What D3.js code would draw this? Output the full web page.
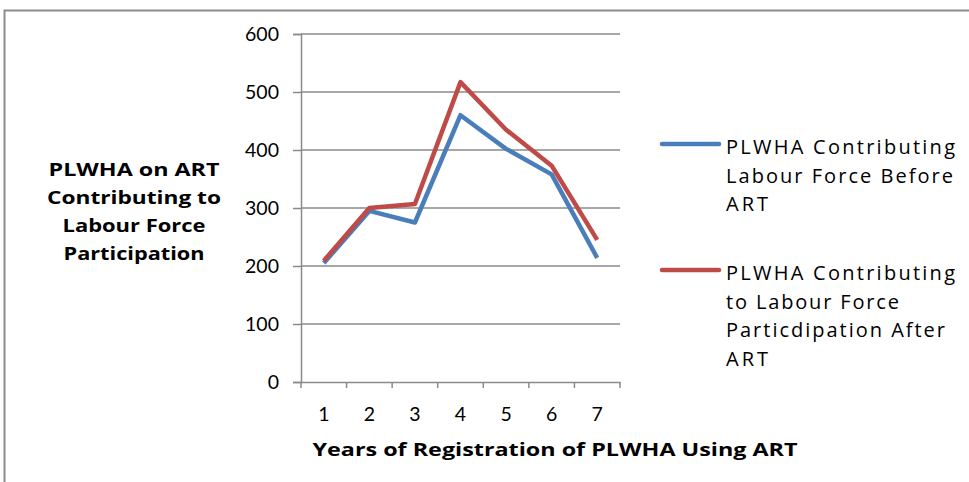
<!DOCTYPE html>
<html>
<head>
<meta charset="utf-8">
<script src="https://cdn.jsdelivr.net/npm/d3@7"></script>
<style>
  body { margin: 0; background: #fff; }
  svg { display: block; font-family: "Open Sans", Lato, sans-serif; }
</style>
</head>
<body>
<svg id="chart" width="969" height="482"></svg>
<script>
// data
var years = ['1', '2', '3', '4', '5', '6', '7'];
var beforeArt = [205, 295, 275, 460, 402, 358, 214];
var afterArt = [209, 300, 307, 517, 435, 373, 245];
var yTicks = [0, 100, 200, 300, 400, 500, 600];
var seriesNames = [
    ['PLWHA Contributing', 'Labour Force Before', 'ART'],
    ['PLWHA Contributing', 'to Labour Force', 'Particdipation After', 'ART']
];
var colors = ['#4a7ebb', '#be4b48'];

var svg = d3.select('#chart');

// outer frame (cut off at top/left like the source)
svg.append('path')
    .attr('d', 'M4.5,482 V10.5 H969')
    .attr('fill', 'none')
    .attr('stroke', '#8c8c8c')
    .attr('stroke-width', 2);

var plotLeft = 301, plotRight = 620, plotTop = 34, plotBottom = 382;

var x = d3.scaleBand().domain(years).range([plotLeft, plotRight]);
var y = d3.scaleLinear().domain([0, 600]).range([plotBottom, plotTop]);

// gridlines
svg.append('g').selectAll('line')
    .data(yTicks.slice(1))
    .enter().append('line')
    .attr('x1', plotLeft).attr('x2', plotRight)
    .attr('y1', function (d) { return y(d); })
    .attr('y2', function (d) { return y(d); })
    .attr('stroke', '#8a8a8a')
    .attr('stroke-width', 1.5);

var yAxis = svg.append('g')
    .attr('transform', 'translate(' + plotLeft + ',0)')
    .call(d3.axisLeft(y).tickValues(yTicks).tickSize(8).tickPadding(14));
yAxis.selectAll('text').attr('font-size', 19.5).attr('fill', '#000').attr('font-family', 'Lato, sans-serif');

var xAxis = svg.append('g')
    .attr('transform', 'translate(0,' + plotBottom + ')')
    .call(d3.axisBottom(x).tickSize(0).tickPadding(25));
xAxis.selectAll('text').attr('font-size', 19.5).attr('fill', '#000').attr('font-family', 'Lato, sans-serif');
// category boundary ticks
xAxis.selectAll('.bound')
    .data(years.concat(['end']))
    .enter().append('line')
    .attr('class', 'bound')
    .attr('x1', function (d, i) { return plotLeft + i * x.step(); })
    .attr('x2', function (d, i) { return plotLeft + i * x.step(); })
    .attr('y1', 0).attr('y2', 6)
    .attr('stroke', '#8a8a8a').attr('stroke-width', 1.5);

svg.selectAll('.domain, .tick line').attr('stroke', '#8a8a8a').attr('stroke-width', 1.5);

// lines
var line = d3.line()
    .x(function (d, i) { return x(years[i]) + x.bandwidth() / 2; })
    .y(function (d) { return y(d); });

[beforeArt, afterArt].forEach(function (s, k) {
    svg.append('path')
        .datum(s)
        .attr('d', line)
        .attr('fill', 'none')
        .attr('stroke', colors[k])
        .attr('stroke-width', 4.5)
        .attr('stroke-linejoin', 'round');
});

// axis titles
var yTitle = ['PLWHA on ART', 'Contributing to', 'Labour Force', 'Participation'];
var yTitleW = [171, 174, 143, 141];
svg.append('g')
    .attr('font-size', 18).attr('font-weight', 'bold')
    .selectAll('text')
    .data(yTitle)
    .enter().append('text')
    .attr('text-anchor', 'middle')
    .attr('x', 134)
    .attr('y', function (d, i) { return 176 + i * 28; })
    .attr('textLength', function (d, i) { return yTitleW[i]; })
    .attr('lengthAdjust', 'spacingAndGlyphs')
    .text(function (d) { return d; });

svg.append('text')
    .attr('x', 555).attr('y', 456)
    .attr('text-anchor', 'middle')
    .attr('font-size', 18).attr('font-weight', 'bold')
    .attr('textLength', 485)
    .attr('lengthAdjust', 'spacingAndGlyphs')
    .text('Years of Registration of PLWHA Using ART');

// legend
var legendY = [144, 270];
var legendW = [[229, 227, 42], [229, 173, 219, 42]];
seriesNames.forEach(function (names, k) {
    var g = svg.append('g');
    g.append('line')
        .attr('x1', 662).attr('x2', 719)
        .attr('y1', legendY[k]).attr('y2', legendY[k])
        .attr('stroke', colors[k]).attr('stroke-width', 4.5)
        .attr('stroke-linecap', 'round');
    g.selectAll('text')
        .data(names)
        .enter().append('text')
        .attr('font-size', 20)
        .attr('x', 726)
        .attr('y', function (d, i) { return legendY[k] + 10 + i * 28.5; })
        .attr('textLength', function (d, i) { return legendW[k][i]; })
        .attr('lengthAdjust', 'spacing')
        .text(function (d) { return d; });
});
</script>
</body>
</html>
